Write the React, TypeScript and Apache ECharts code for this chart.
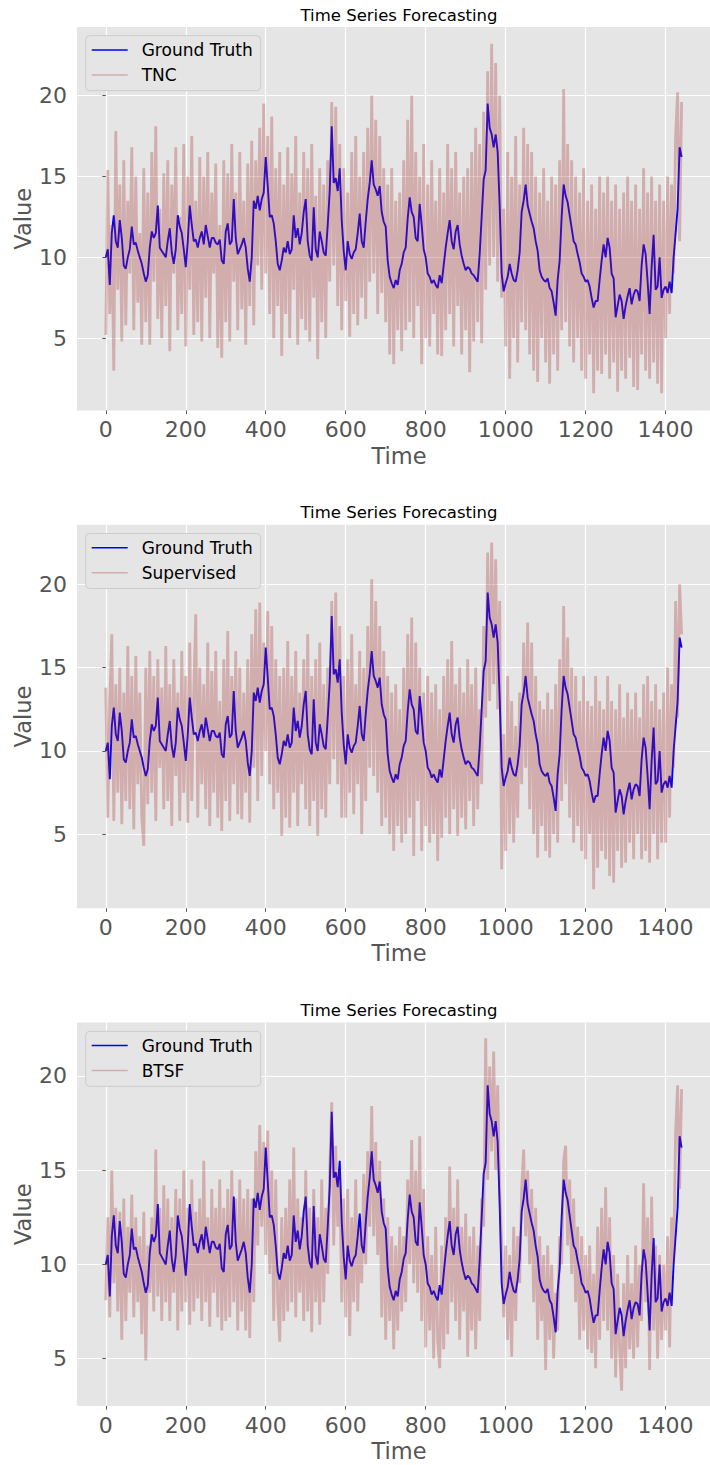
import React, { useEffect, useRef } from 'react';
import * as echarts from 'echarts';

const TIME_STEP = 5;
const X_TICKS = [0, 200, 400, 600, 800, 1000, 1200, 1400];
const Y_TICKS = [5, 10, 15, 20];
const TITLE = 'Time Series Forecasting';
const X_NAME = 'Time';
const Y_NAME = 'Value';
const GT_NAME = 'Ground Truth';
const MODEL_NAMES = ['TNC', 'Supervised', 'BTSF'];
const X_RANGE = [-72, 1511];
const Y_RANGES = [
  [0.54, 24.23],
  [0.56, 23.57],
  [2.485, 22.83],
];

const GROUND_TRUTH = [
  10.0, 10.5, 8.3, 11.5, 12.6, 11.0, 10.6, 12.3, 11.2, 9.5,
  9.3, 10.0, 10.5, 11.9, 10.8, 10.9, 10.4, 10.0, 9.6, 9.0,
  8.5, 8.9, 10.6, 11.6, 11.2, 11.5, 13.2, 10.6, 10.4, 10.2,
  10.0, 11.0, 11.8, 10.3, 9.6, 10.5, 12.6, 11.9, 11.5, 10.5,
  9.4, 11.0, 13.2, 12.0, 11.0, 11.1, 10.6, 11.2, 11.6, 10.8,
  12.0, 11.3, 10.6, 11.2, 11.2, 10.9, 10.8, 11.1, 9.8, 9.6,
  11.6, 12.1, 10.8, 11.0, 13.6, 11.2, 10.2, 10.5, 10.8, 11.2,
  10.6, 9.3, 8.5, 10.0, 13.5, 13.0, 13.8, 12.9, 13.6, 14.0,
  16.2, 14.4, 12.5, 12.6, 12.1, 11.0, 9.6, 9.2, 9.8, 10.6,
  10.3, 11.0, 10.2, 10.5, 12.6, 11.2, 11.8, 10.8, 11.5, 12.8,
  13.6, 11.0, 10.1, 9.8, 13.1, 10.5, 10.0, 11.6, 11.0, 10.3,
  10.1, 12.0, 14.1, 18.1, 14.6, 14.9, 14.1, 15.5, 12.3, 10.4,
  9.2, 11.0, 10.2, 9.9, 10.3, 10.5, 11.5, 12.7, 11.0, 10.6,
  12.2, 13.6, 14.6, 16.0, 14.5, 14.2, 13.8, 14.4, 12.8, 12.2,
  11.9, 9.8, 8.8, 8.4, 8.1, 8.6, 8.3, 9.2, 9.6, 10.3,
  10.6, 12.4, 13.7, 12.8, 12.5, 11.2, 11.0, 13.3, 12.0, 10.5,
  10.0, 9.0, 8.8, 8.4, 8.6, 8.3, 8.1, 8.9, 8.4, 9.5,
  10.6, 11.5, 12.3, 11.0, 10.5, 11.6, 12.0, 10.8, 10.1, 9.6,
  9.2, 9.4, 9.3, 9.0, 8.9, 8.7, 8.5, 10.2, 12.5, 14.8,
  15.4, 19.5, 18.0, 17.6, 16.8, 17.6, 16.5, 13.2, 9.0, 7.9,
  8.4, 8.8, 9.6, 9.0, 8.6, 8.5, 9.2, 10.3, 12.8, 13.5,
  14.5, 13.2, 12.7, 12.2, 11.8, 11.0, 10.4, 9.2, 8.8, 8.6,
  8.5, 8.7, 8.1, 7.9, 7.2, 6.4, 8.6, 9.8, 12.5, 14.5,
  13.8, 13.4, 12.6, 11.8, 11.0, 10.8, 10.2, 9.7, 9.0, 8.8,
  8.5, 8.6, 8.2, 7.5, 6.9, 7.3, 7.3, 8.6, 9.8, 10.8,
  10.0, 11.2, 10.6, 9.0, 8.7, 6.3, 7.0, 7.7, 7.3, 6.2,
  7.0, 7.6, 8.1, 7.1, 7.7, 8.0, 7.9, 7.3, 9.5, 10.8,
  10.2, 8.5, 6.5, 9.4, 11.4, 8.0, 8.2, 10.0, 7.5, 8.0,
  8.2, 7.8, 8.5, 7.8, 10.0, 11.5, 13.0, 16.8, 16.2,
];

const TNC = [
  5.2, 15.4, 6.5, 12.0, 3.0, 17.8, 8.0, 14.5, 4.8, 16.0,
  5.8, 13.5, 9.0, 16.8, 5.5, 15.0, 7.2, 11.5, 4.6, 15.5,
  6.0, 14.0, 4.6, 16.5, 8.5, 18.1, 6.2, 13.0, 5.0, 15.2,
  7.0, 16.0, 4.2, 14.5, 9.0, 16.8, 5.5, 12.5, 6.5, 17.0,
  4.5, 15.0, 8.0, 17.5, 5.2, 13.5, 6.0, 16.2, 4.8, 15.0,
  7.5, 16.5, 5.0, 14.0, 9.0, 15.8, 4.4, 12.0, 3.8, 16.0,
  6.0, 15.2, 4.8, 17.0, 8.5, 14.0, 5.5, 16.5, 6.8, 13.5,
  4.6, 15.8, 7.0, 17.2, 5.8, 16.0, 9.5, 18.0, 8.0, 19.5,
  9.0, 17.5, 6.5, 18.7, 5.0, 15.5, 7.0, 16.5, 3.9, 14.5,
  6.5, 16.8, 5.0, 15.2, 8.0, 17.5, 4.6, 14.0, 6.2, 16.5,
  5.5, 15.5, 4.8, 17.0, 7.5, 13.8, 3.7, 15.5, 6.0, 14.5,
  5.0, 16.0, 8.5, 19.6, 9.5, 19.3, 7.0, 17.0, 5.5, 15.5,
  7.3, 14.0, 5.1, 16.5, 6.5, 17.5, 5.8, 15.0, 7.5, 16.5,
  6.2, 18.0, 8.5, 20.0, 9.0, 18.5, 6.5, 17.5, 7.8, 15.5,
  6.0, 14.5, 4.0, 15.5, 3.4, 13.5, 5.5, 14.0, 4.2, 16.0,
  5.5, 18.5, 6.0, 20.0, 5.0, 16.5, 7.0, 15.0, 3.4, 17.0,
  5.0, 14.5, 4.5, 16.0, 6.5, 13.5, 4.0, 15.5, 3.9, 14.0,
  5.5, 17.0, 6.5, 15.5, 4.5, 16.5, 7.0, 14.0, 4.0, 15.0,
  5.5, 15.5, 2.9, 16.5, 4.8, 18.0, 6.0, 17.0, 4.7, 19.0,
  8.0, 21.5, 9.5, 23.2, 10.0, 22.0, 8.5, 20.0, 7.5, 13.0,
  4.5, 16.5, 2.5, 15.0, 5.0, 17.5, 3.5, 14.5, 6.0, 18.0,
  5.5, 17.0, 4.0, 16.5, 3.0, 15.0, 2.3, 14.0, 5.0, 15.5,
  3.5, 13.5, 2.2, 15.0, 4.0, 14.5, 3.0, 16.0, 5.5, 20.4,
  6.0, 17.0, 4.5, 16.0, 3.5, 15.0, 5.0, 14.0, 3.0, 15.5,
  2.5, 13.5, 4.0, 14.5, 1.6, 13.0, 3.0, 15.0, 2.8, 14.0,
  4.0, 15.0, 2.5, 13.5, 3.5, 14.5, 1.7, 13.0, 3.0, 14.0,
  2.5, 15.0, 3.8, 13.5, 2.0, 14.5, 1.8, 13.0, 4.0, 15.5,
  3.0, 14.0, 2.5, 15.0, 3.5, 13.5, 2.2, 14.5, 1.6, 13.5,
  5.0, 15.0, 6.5, 14.5, 9.0, 17.5, 20.2, 11.0, 19.6,
];

const SUPERVISED = [
  13.8, 6.0, 13.0, 17.0, 5.8, 14.0, 7.5, 15.0, 5.6, 13.5,
  7.0, 16.3, 6.5, 14.5, 5.3, 15.7, 8.0, 13.5, 6.0, 4.3,
  15.0, 6.8, 16.0, 7.5, 14.5, 5.8, 15.5, 9.0, 13.8, 6.5,
  16.3, 7.0, 14.0, 5.5, 15.5, 8.5, 13.5, 5.8, 16.0, 7.5,
  14.5, 5.7, 16.5, 7.0, 13.5, 18.2, 6.0, 15.0, 8.0, 14.0,
  6.5, 16.5, 5.5, 14.8, 7.5, 16.0, 6.0, 13.0, 5.2, 15.5,
  7.0, 17.2, 5.8, 14.5, 8.0, 16.0, 6.2, 15.0, 5.9, 13.5,
  7.5, 15.5, 5.7, 17.0, 9.0, 18.5, 7.0, 18.9, 8.5, 16.5,
  10.0, 18.4, 8.0, 17.5, 6.5, 15.5, 7.5, 14.5, 4.9, 15.0,
  6.0, 16.6, 5.4, 14.5, 7.5, 16.0, 5.5, 13.5, 8.0, 15.5,
  6.5, 17.0, 5.5, 14.5, 7.0, 15.5, 4.9, 16.5, 6.5, 14.0,
  6.0, 15.0, 8.0, 19.0, 9.5, 19.5, 8.0, 17.5, 6.0, 14.5,
  6.0, 15.5, 7.5, 17.0, 6.2, 14.0, 8.0, 16.0, 5.0, 15.0,
  7.0, 17.5, 9.0, 20.3, 8.5, 19.0, 7.5, 17.5, 5.5, 16.0,
  6.0, 14.5, 5.0, 13.5, 4.0, 14.0, 5.5, 12.5, 4.5, 15.0,
  5.0, 17.0, 6.0, 18.0, 3.7, 16.5, 7.0, 15.0, 4.0, 13.5,
  5.5, 14.5, 4.5, 13.5, 5.0, 14.0, 3.4, 12.5, 4.8, 14.5,
  6.0, 15.5, 5.0, 16.6, 6.5, 14.0, 4.9, 15.0, 6.0, 13.5,
  5.3, 15.5, 7.0, 14.0, 5.5, 15.0, 6.5, 12.5, 8.0, 17.5,
  12.0, 21.9, 13.0, 22.5, 14.0, 21.5, 12.5, 19.0, 2.9, 11.0,
  4.0, 14.5, 5.0, 13.0, 4.5, 11.5, 6.0, 13.5, 8.0, 16.5,
  9.0, 17.7, 6.5, 16.5, 5.0, 14.5, 3.6, 13.0, 5.5, 12.5,
  4.0, 13.5, 3.6, 12.5, 5.0, 14.0, 4.5, 15.5, 7.0, 18.7,
  8.0, 16.8, 6.0, 15.0, 4.5, 14.5, 5.5, 13.0, 4.0, 14.5,
  3.5, 13.0, 5.0, 12.7, 1.7, 14.5, 3.0, 13.0, 4.0, 12.5,
  3.5, 14.5, 2.5, 13.0, 2.1, 12.5, 4.0, 14.0, 3.0, 12.0,
  3.3, 13.5, 4.5, 12.5, 3.5, 13.5, 5.0, 12.0, 3.5, 14.0,
  4.0, 14.5, 3.3, 13.0, 5.0, 14.0, 3.5, 12.5, 4.5, 13.5,
  4.5, 15.0, 6.0, 14.0, 9.0, 19.0, 12.0, 20.0, 17.0,
];

const BTSF = [
  8.1, 12.5, 7.2, 15.0, 9.0, 13.0, 7.5, 12.8, 6.0, 13.5,
  7.0, 12.0, 8.5, 13.7, 7.2, 12.5, 8.0, 11.5, 6.3, 12.8,
  4.9, 11.0, 8.5, 12.5, 7.5, 16.1, 8.3, 13.0, 7.0, 14.2,
  8.0, 13.5, 7.0, 12.5, 8.5, 14.0, 6.5, 13.5, 7.5, 15.0,
  8.0, 13.0, 6.8, 14.5, 7.5, 12.8, 8.2, 13.5, 7.0, 15.5,
  8.0, 12.5, 6.7, 14.0, 8.5, 13.0, 7.2, 14.5, 6.5, 13.0,
  7.0, 14.0, 7.2, 15.0, 8.0, 13.5, 6.5, 14.5, 7.5, 13.5,
  6.5, 14.0, 6.1, 13.5, 8.0, 16.0, 11.0, 17.4, 12.0, 16.5,
  10.5, 17.1, 9.5, 15.0, 7.0, 14.5, 8.0, 5.9, 12.5, 7.0,
  13.0, 7.5, 14.5, 8.0, 16.2, 7.2, 13.5, 8.5, 12.5, 7.0,
  15.0, 7.5, 13.0, 6.4, 14.0, 8.0, 12.5, 6.8, 14.5, 8.0,
  13.0, 9.5, 15.0, 18.6, 11.0, 16.3, 12.0, 15.0, 8.0, 13.5,
  7.2, 14.0, 6.2, 12.5, 8.0, 14.5, 7.5, 12.0, 9.0, 14.8,
  10.0, 16.0, 12.0, 18.4, 11.5, 16.5, 10.5, 15.5, 7.2, 13.5,
  6.0, 12.5, 7.0, 11.5, 5.5, 11.0, 6.5, 12.0, 7.5, 11.5,
  8.0, 14.5, 10.0, 16.6, 9.0, 15.0, 8.5, 16.8, 7.0, 14.0,
  5.6, 11.5, 6.5, 10.5, 5.0, 12.0, 6.0, 4.5, 11.0, 5.5,
  12.5, 6.3, 15.2, 8.0, 13.0, 7.0, 14.5, 6.0, 12.0, 7.5,
  12.7, 5.1, 11.5, 6.5, 12.0, 5.5, 11.0, 7.0, 13.5, 12.0,
  22.0, 14.5, 20.5, 16.0, 21.3, 15.0, 19.5, 14.0, 11.0, 7.2,
  11.0, 6.0, 10.5, 5.1, 12.0, 7.0, 11.5, 9.0, 14.0, 16.1,
  11.5, 15.0, 10.0, 14.0, 8.0, 13.0, 6.0, 11.5, 7.0, 10.5,
  4.4, 11.0, 6.0, 10.0, 5.0, 8.5, 6.5, 11.5, 10.0, 15.5,
  16.3, 11.0, 14.5, 9.5, 13.5, 8.0, 12.0, 6.0, 11.5, 6.5,
  10.5, 5.5, 11.0, 5.3, 9.5, 4.5, 12.0, 6.0, 13.0, 7.0,
  14.1, 6.5, 12.5, 5.0, 10.5, 4.0, 9.5, 5.5, 3.3, 9.0,
  4.5, 10.5, 5.5, 9.0, 5.0, 11.0, 5.6, 10.0, 7.0, 14.3,
  8.0, 12.5, 4.4, 13.6, 6.5, 11.0, 5.0, 10.5, 6.0, 10.0,
  6.5, 11.5, 5.6, 12.5, 10.0, 17.0, 19.5, 14.0, 19.3,
];

const MODEL_VALUES = [TNC, SUPERVISED, BTSF];

const toPairs = (vals: number[]) => vals.map((v, i) => [i * TIME_STEP, v]);

// layout (pixels)
const GRID_LEFT = 77;
const GRID_RIGHT = -11;
const GRID_TOP = 27;
const PANEL_STEP = 497.8;
const GRID_H = 383.5;
const FONT = 'DejaVu Sans';
const TICK_COLOR = '#555555';
const BLUE = '#0000ff';
const BROWN = '#a52a2a';

export default function App() {
  const ref = useRef<HTMLDivElement>(null);

  useEffect(() => {
    if (!ref.current) return;
    document.body.style.margin = '0';
    const chart = echarts.init(ref.current, null, { renderer: 'svg' });

    const grids: any[] = [];
    const xAxes: any[] = [];
    const yAxes: any[] = [];
    const series: any[] = [];
    const graphics: any[] = [];
    const plain = (v: number) => String(v);

    MODEL_NAMES.forEach((name, i) => {
      const oy = i * PANEL_STEP;
      grids.push({
        left: GRID_LEFT,
        right: GRID_RIGHT,
        top: GRID_TOP + oy,
        height: GRID_H,
        show: true,
        backgroundColor: '#e5e5e5',
        borderWidth: 0,
      });
      xAxes.push({
        type: 'value',
        gridIndex: i,
        min: X_RANGE[0],
        max: X_RANGE[1],
        axisLine: { show: false },
        axisTick: {
          show: true,
          customValues: X_TICKS,
          length: 3.5,
          lineStyle: { color: TICK_COLOR, width: 1 },
        },
        axisLabel: {
          customValues: X_TICKS,
          formatter: plain,
          fontSize: 22,
          fontFamily: FONT,
          color: TICK_COLOR,
          margin: 8,
        },
        splitLine: { show: true, lineStyle: { color: '#ffffff', width: 1.2 } },
      });
      yAxes.push({
        type: 'value',
        gridIndex: i,
        min: Y_RANGES[i][0],
        max: Y_RANGES[i][1],
        axisLine: { show: false },
        axisTick: {
          show: true,
          customValues: Y_TICKS,
          length: 3.5,
          lineStyle: { color: TICK_COLOR, width: 1 },
        },
        axisLabel: {
          customValues: Y_TICKS,
          formatter: plain,
          fontSize: 22,
          fontFamily: FONT,
          color: TICK_COLOR,
          margin: 10,
        },
        splitLine: { show: true, lineStyle: { color: '#ffffff', width: 1.2 } },
      });
      series.push({
        type: 'line',
        name: GT_NAME,
        xAxisIndex: i,
        yAxisIndex: i,
        data: toPairs(GROUND_TRUTH),
        showSymbol: false,
        symbol: 'none',
        silent: true,
        z: 2,
        lineStyle: { color: BLUE, width: 1.9 },
      });
      series.push({
        type: 'line',
        name,
        xAxisIndex: i,
        yAxisIndex: i,
        data: toPairs(MODEL_VALUES[i]),
        showSymbol: false,
        symbol: 'none',
        silent: true,
        z: 3,
        lineStyle: { color: BROWN, width: 2.8, opacity: 0.3, join: 'bevel' },
      });

      // title
      graphics.push({
        type: 'text',
        x: 399,
        y: 15 + oy,
        style: {
          text: TITLE,
          fontSize: 16.5,
          fontFamily: FONT,
          fill: '#000000',
          align: 'center',
          textAlign: 'center',
          verticalAlign: 'middle',
          textVerticalAlign: 'middle',
        },
      });
      // x name
      graphics.push({
        type: 'text',
        x: 399,
        y: 455.5 + oy,
        style: {
          text: X_NAME,
          fontSize: 22.5,
          fontFamily: FONT,
          fill: TICK_COLOR,
          align: 'center',
          textAlign: 'center',
          verticalAlign: 'middle',
          textVerticalAlign: 'middle',
        },
      });
      // y name
      graphics.push({
        type: 'text',
        x: 22.7,
        y: GRID_TOP + GRID_H / 2 + oy,
        rotation: Math.PI / 2,
        style: {
          text: Y_NAME,
          x: 0,
          y: 0,
          fontSize: 22.5,
          fontFamily: FONT,
          fill: TICK_COLOR,
          align: 'center',
          textAlign: 'center',
          verticalAlign: 'middle',
          textVerticalAlign: 'middle',
        },
      });
      // legend
      const ly = 35.7 + oy;
      graphics.push({
        type: 'rect',
        z: 10,
        shape: { x: 85.7, y: ly, width: 175, height: 55, r: 4 },
        style: { fill: '#e5e5e5', stroke: '#cccccc', lineWidth: 1 },
      });
      graphics.push({
        type: 'line',
        z: 11,
        shape: { x1: 91.7, y1: ly + 14.3, x2: 127.7, y2: ly + 14.3 },
        style: { stroke: BLUE, lineWidth: 1.5 },
      });
      graphics.push({
        type: 'line',
        z: 11,
        shape: { x1: 91.7, y1: ly + 39.3, x2: 127.7, y2: ly + 39.3 },
        style: { stroke: BROWN, lineWidth: 1.5, opacity: 0.3 },
      });
      graphics.push({
        type: 'text',
        z: 11,
        x: 141.7,
        y: ly + 14.6,
        style: {
          text: GT_NAME,
          fontSize: 17,
          fontFamily: FONT,
          fill: '#000000',
          align: 'left',
          textAlign: 'left',
          verticalAlign: 'middle',
          textVerticalAlign: 'middle',
        },
      });
      graphics.push({
        type: 'text',
        z: 11,
        x: 141.7,
        y: ly + 39.3,
        style: {
          text: name,
          fontSize: 17,
          fontFamily: FONT,
          fill: '#000000',
          align: 'left',
          textAlign: 'left',
          verticalAlign: 'middle',
          textVerticalAlign: 'middle',
        },
      });
    });

    chart.setOption({
      animation: false,
      backgroundColor: '#ffffff',
      grid: grids,
      xAxis: xAxes,
      yAxis: yAxes,
      series,
      graphic: { elements: graphics },
    });

    return () => chart.dispose();
  }, []);

  return (
    <div
      ref={ref}
      style={{ position: 'absolute', left: 0, top: 0, width: 710, height: 1465 }}
    />
  );
}
